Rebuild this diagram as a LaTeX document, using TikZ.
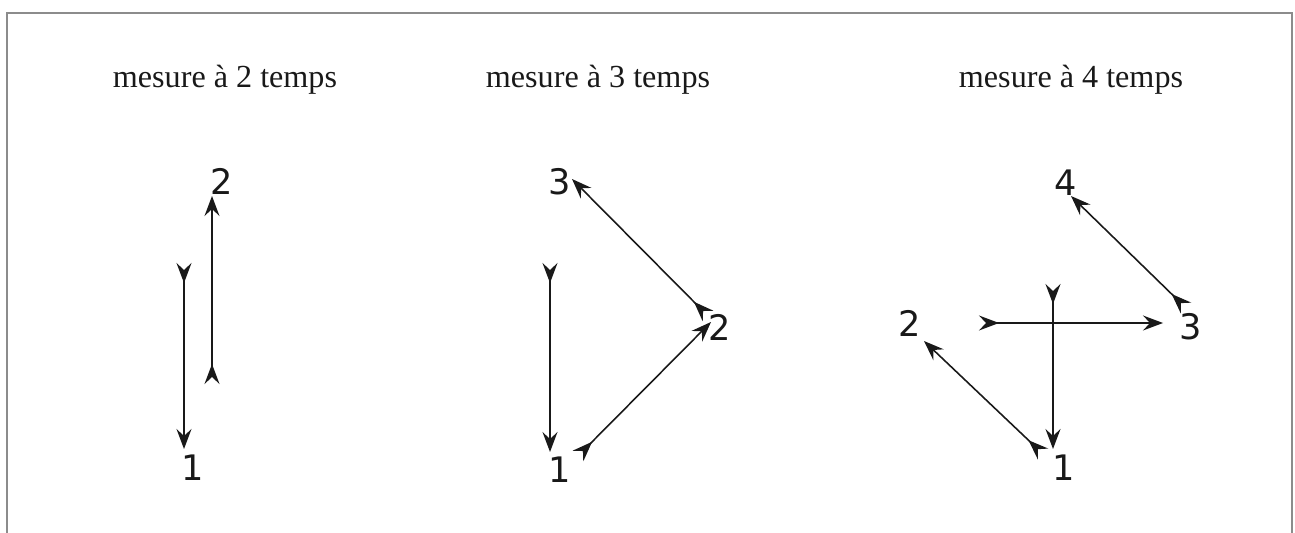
\documentclass[tikz,border=0pt]{standalone}
\usepackage{fontspec}
\setmainfont{Liberation Serif}
\newfontfamily\beatfont{DejaVu Sans}
\usetikzlibrary{arrows.meta}
\definecolor{inkgray}{RGB}{25, 25, 25}
\tikzset{
  title/.style={font=\fontsize{18.3}{20}\selectfont, text=inkgray, inner sep=0pt},
  beat/.style={font=\beatfont\fontsize{20}{21}\selectfont, text=inkgray, inner sep=0pt},
  move/.style={draw=inkgray, line width=0.9pt,
    arrows={Stealth[length=4mm, width=3mm, inset=1.4mm, reversed]-Stealth[length=4mm, width=3mm, inset=1.4mm]}},
  frame/.style={draw=black!45, line width=1.1pt},
}
\begin{document}
\begin{tikzpicture}[x=0.02cm, y=-0.02cm]
\useasboundingbox (0,0) rectangle (1295,533);
\draw[frame] (7,533) -- (7,13) -- (1292,13) -- (1292,533);

% titres
\node[title] (t2) at (225,80) {mesure à 2 temps};
\node[title] (t3) at (598,80) {mesure à 3 temps};
\node[title] (t4) at (1071,80) {mesure à 4 temps};

% mesure a 2 temps
\node[beat] (a1) at (193,468) {1};
\node[beat] (a2) at (222,181) {2};
\coordinate (a1s) at (184,263);
\coordinate (a1e) at (184,449);
\coordinate (a2s) at (212,384);
\coordinate (a2e) at (212,196);
\draw[move] (a1s) -- (a1e);
\draw[move] (a2s) -- (a2e);

% mesure a 3 temps
\node[beat] (b1) at (560,470) {1};
\node[beat] (b2) at (720,327) {2};
\node[beat] (b3) at (560,182) {3};
\coordinate (b1s) at (550,263);
\coordinate (b1e) at (550,452);
\coordinate (b2s) at (578,456);
\coordinate (b2e) at (711,322);
\coordinate (b3s) at (708,316);
\coordinate (b3e) at (572,179);
\draw[move] (b1s) -- (b1e);
\draw[move] (b2s) -- (b2e);
\draw[move] (b3s) -- (b3e);

% mesure a 4 temps
\node[beat] (c1) at (1064,468) {1};
\node[beat] (c2) at (910,323) {2};
\node[beat] (c3) at (1191,327) {3};
\node[beat] (c4) at (1066,183) {4};
\coordinate (c1s) at (1053,284);
\coordinate (c1e) at (1053,449);
\coordinate (c2s) at (1043,454);
\coordinate (c2e) at (924,341);
\coordinate (c3s) at (979,323);
\coordinate (c3e) at (1163,323);
\coordinate (c4s) at (1186,308);
\coordinate (c4e) at (1071,196);
\draw[move] (c1s) -- (c1e);
\draw[move] (c2s) -- (c2e);
\draw[move] (c3s) -- (c3e);
\draw[move] (c4s) -- (c4e);

\end{tikzpicture}
\end{document}
